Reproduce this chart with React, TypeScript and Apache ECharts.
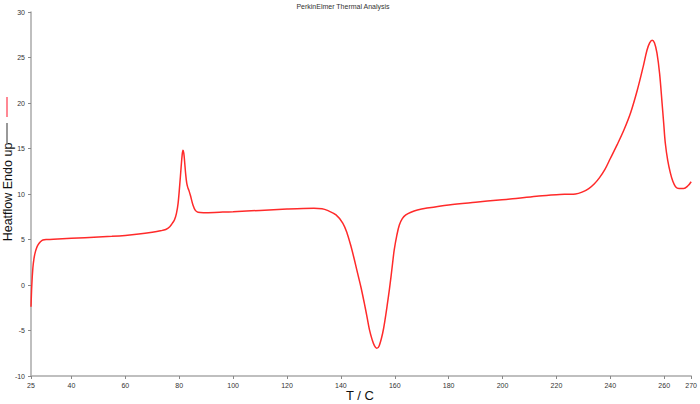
import React, { useEffect, useRef } from "react";
import * as echarts from "echarts";

const temperature = [
  25, 25.3, 25.7, 26.1, 26.5, 27.0, 27.6, 28.5, 29.4, 31, 35, 45, 55, 60, 65, 70, 73, 75, 76.5, 77.5, 78.3,
  79.0, 79.6, 80.2, 80.7, 81.1, 81.4, 81.7, 82.0, 82.4, 82.8, 83.2, 83.6, 84.2, 85.1, 86.0, 87.0, 89,
  95, 100, 110, 120, 126, 130, 133, 135, 138.2, 140.7, 142.3, 143.8, 145.0, 146.2, 147.5, 148.7, 149.7,
  150.6, 151.6, 152.5, 153.3, 154.2, 155.5, 156.4, 157.3, 158.0, 158.6, 159.2, 159.8, 160.8, 161.7,
  162.8, 164.1, 166, 168.4, 172, 180, 190, 198.7, 205, 213.5, 220, 224, 227.1, 229.5, 232, 234,
  236, 238, 240, 242.5, 245, 247.5, 250, 252.2, 253.6, 254.6, 255.5, 256.4, 257.3, 258.3,
  259.2, 259.8, 260.4, 261.3, 262.3, 263.2, 264.2, 265.5, 267.2, 268.8, 270,
];

const heatflow = [
  -2.4, 0, 1.9, 2.9, 3.5, 4.0, 4.4, 4.75, 4.95, 5.0, 5.05, 5.2, 5.35, 5.45, 5.6, 5.8, 5.95, 6.1, 6.4,
  6.8, 7.2, 7.9, 9.0, 11.0, 12.9, 14.3, 14.8, 14.5, 13.6, 12.2, 11.2, 10.7, 10.4, 9.8, 8.8, 8.2, 8.0,
  7.95, 8.0, 8.05, 8.2, 8.35, 8.42, 8.43, 8.38, 8.2, 7.7, 6.8, 5.7, 4.2, 2.8, 1.3, -0.3, -2.0, -3.5,
  -4.9, -6.0, -6.7, -6.96, -6.7, -5.3, -3.8, -2.0, -0.5, 0.9, 2.4, 3.85, 5.5, 6.6, 7.3, 7.7, 8.0,
  8.24, 8.45, 8.8, 9.1, 9.34, 9.5, 9.78, 9.92, 9.97, 10.0, 10.2, 10.6, 11.1, 11.8, 12.7, 13.9, 15.4,
  17.0, 18.9, 21.4, 24.0, 25.8, 26.6, 26.9, 26.6, 25.5, 23.2, 20.0, 17.8, 15.6, 13.7, 12.3, 11.4, 10.8,
  10.6, 10.6, 10.9, 11.35,
];

const xTicks = [25, 40, 60, 80, 100, 120, 140, 160, 180, 200, 220, 240, 260, 270];

const titleText = "PerkinElmer Thermal Analysis";
const yTitle = "Heatflow Endo up";
const xTitle = "T / C";

export default function App() {
  const ref = useRef<HTMLDivElement>(null);

  useEffect(() => {
    if (!ref.current) return;
    const chart = echarts.init(ref.current, null, { renderer: "svg" });
    const font = "Liberation Sans, Arial, sans-serif";
    const data = temperature.map((t, i) => [t, heatflow[i]]);
    chart.setOption({
      animation: false,
      backgroundColor: "#ffffff",
      grid: { left: 31, right: 7, top: 12, bottom: 28, containLabel: false },
      xAxis: {
        type: "value",
        min: 25,
        max: 270,
        axisLine: { show: true, onZero: false, lineStyle: { color: "#aaa", width: 1.5 } },
        axisTick: { show: true, length: 3, customValues: xTicks, lineStyle: { color: "#888" } },
        axisLabel: {
          customValues: xTicks,
          fontSize: 7,
          color: "#333",
          margin: 6,
          fontFamily: font,
        },
        splitLine: { show: false },
      },
      yAxis: {
        type: "value",
        min: -10,
        max: 30,
        interval: 5,
        axisLine: { show: true, lineStyle: { color: "#aaa", width: 1.5 } },
        axisTick: { show: true, length: 3, lineStyle: { color: "#888" } },
        axisLabel: { fontSize: 7, color: "#333", margin: 6, fontFamily: font },
        splitLine: { show: false },
      },
      graphic: [
        {
          type: "text",
          x: 343,
          y: 6,
          style: {
            text: titleText,
            fontSize: 7,
            fill: "#333",
            fontFamily: font,
            align: "center",
            verticalAlign: "middle",
            textAlign: "center",
            textVerticalAlign: "middle",
          },
        },
        {
          type: "text",
          x: 8,
          y: 192,
          rotation: Math.PI / 2,
          style: {
            text: yTitle,
            fontSize: 12.5,
            fill: "#111",
            fontFamily: font,
            align: "center",
            verticalAlign: "middle",
            textAlign: "center",
            textVerticalAlign: "middle",
          },
        },
        {
          type: "line",
          shape: { x1: 7, y1: 97, x2: 7, y2: 117 },
          style: { stroke: "#ff6070", lineWidth: 1.5 },
        },
        {
          type: "line",
          shape: { x1: 7, y1: 123, x2: 7, y2: 144 },
          style: { stroke: "#777", lineWidth: 1.5 },
        },
        {
          type: "text",
          x: 360,
          y: 395,
          style: {
            text: xTitle,
            fontSize: 13,
            fill: "#111",
            fontFamily: font,
            align: "center",
            verticalAlign: "middle",
            textAlign: "center",
            textVerticalAlign: "middle",
          },
        },
      ],
      series: [
        {
          type: "line",
          data,
          smooth: 0.35,
          showSymbol: false,
          lineStyle: { color: "#ff2a2a", width: 1.5 },
        },
      ],
    });
    return () => chart.dispose();
  }, []);

  return (
    <div
      ref={ref}
      style={{ position: "fixed", left: 0, top: 0, width: 700, height: 404 }}
    />
  );
}
